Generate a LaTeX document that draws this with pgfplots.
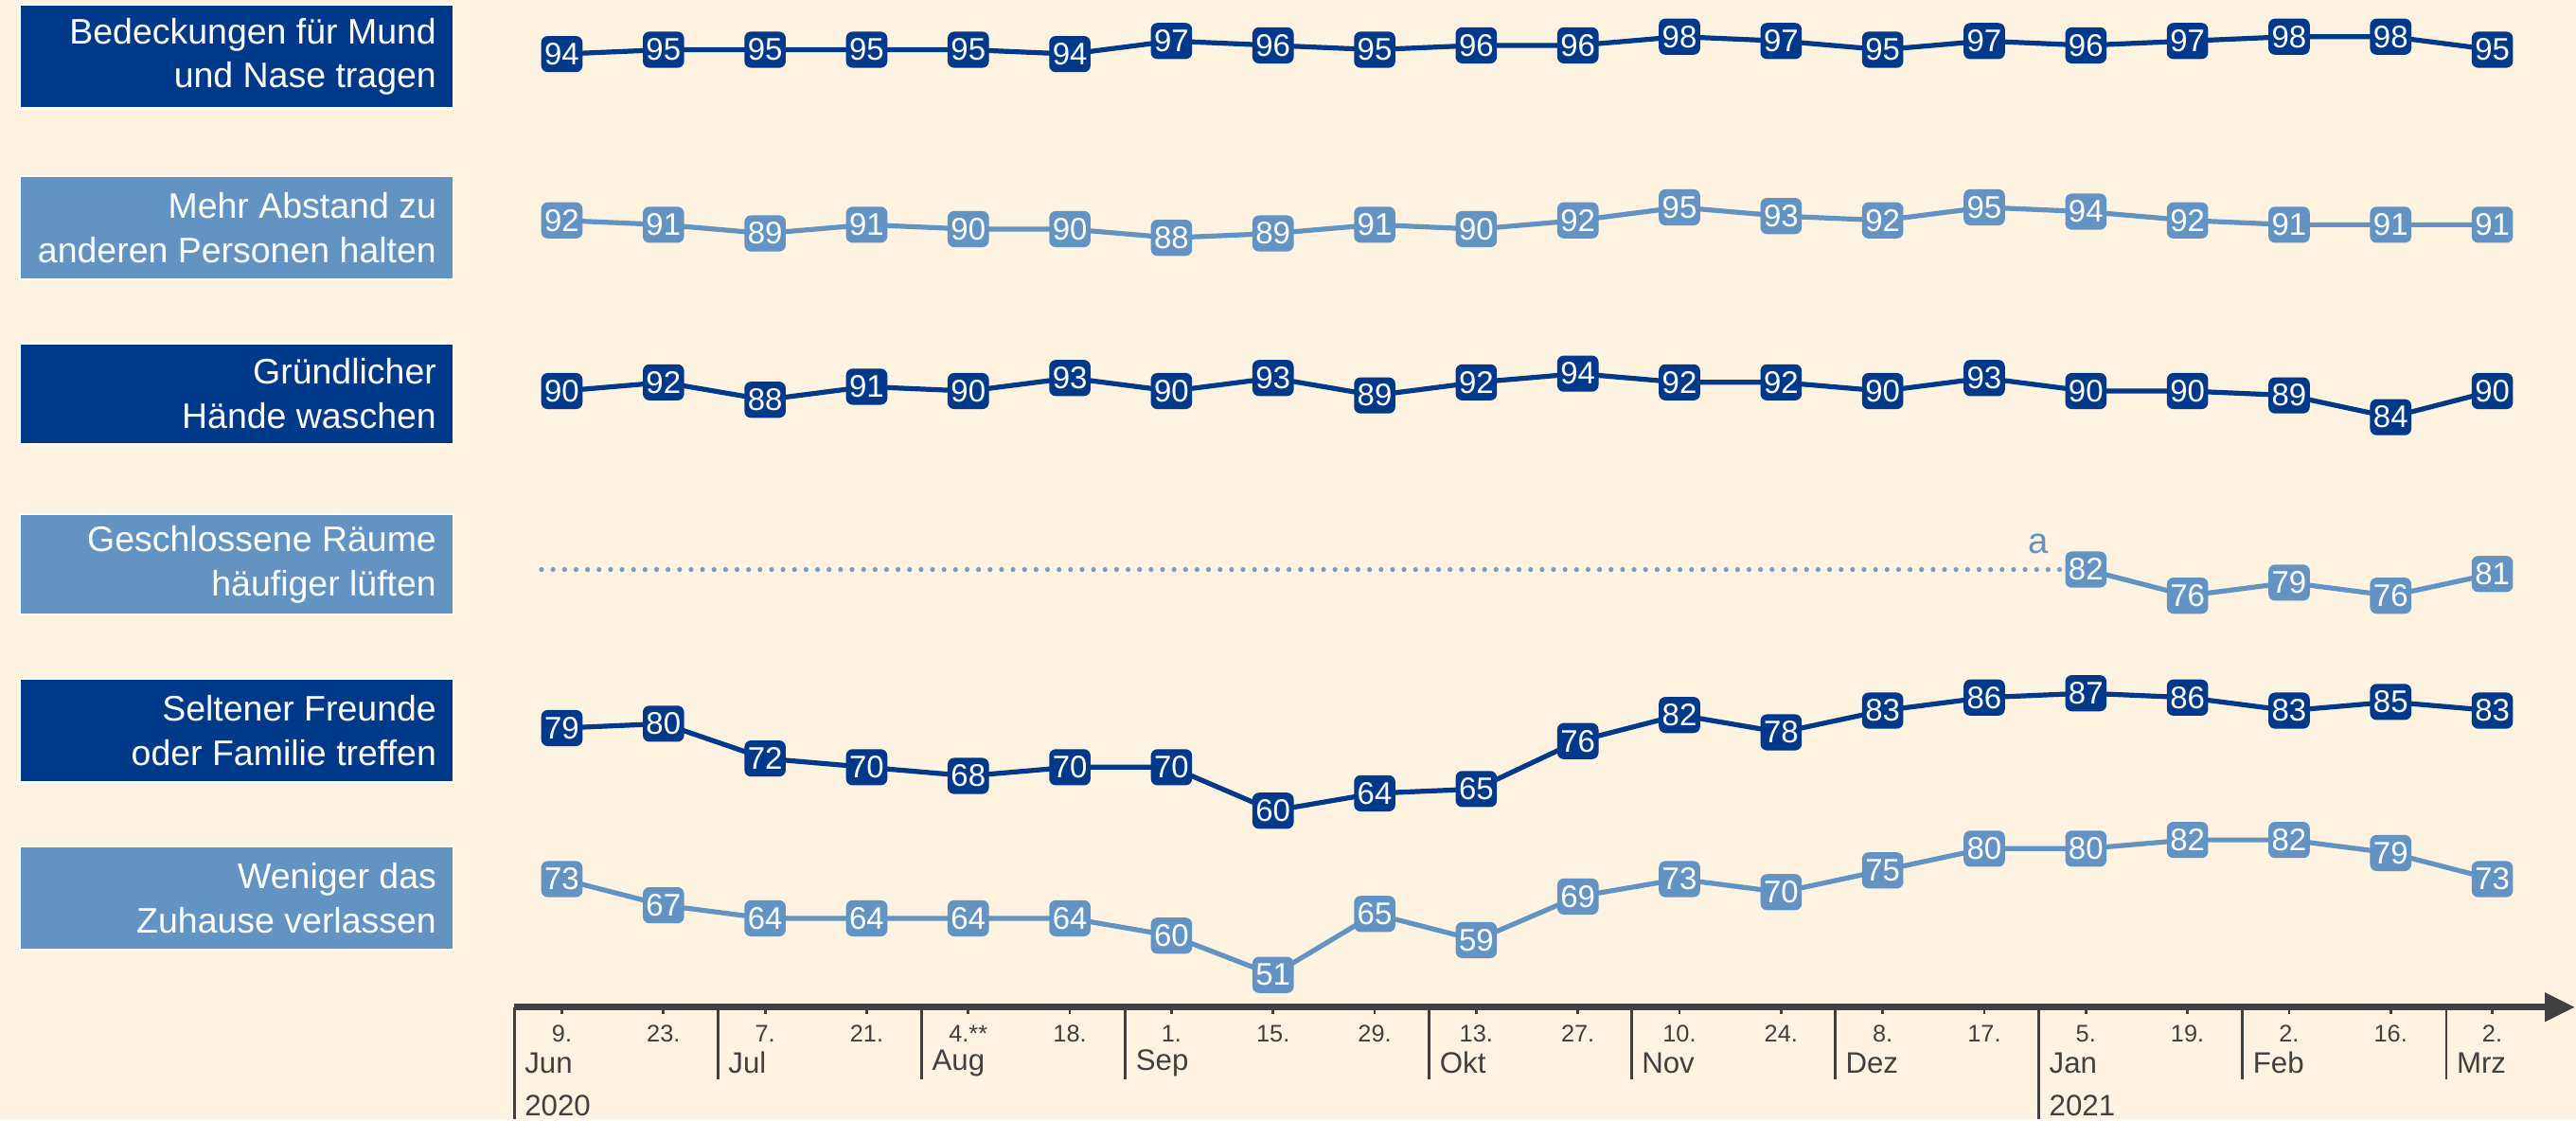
\documentclass[border=0pt]{standalone}
\usepackage{fontspec}
\setmainfont{Liberation Sans}
\usepackage{pgfplots}
\pgfplotsset{compat=1.18}
\usetikzlibrary{arrows.meta}
\definecolor{dblue}{HTML}{00388A}
\definecolor{lblue}{HTML}{6393C3}
\definecolor{dotblue}{HTML}{7C9CC0}
\definecolor{bgcol}{HTML}{FEF3E1}
\definecolor{axgray}{HTML}{404040}

\pgfplotsset{
  row/.style 2 args={
    line width=1.5pt, color=#1, mark=none,
    y filter/.expression={y-#2},
    point meta=rawy,
    nodes near coords={\pgfmathprintnumber[assume math mode=true]{\pgfplotspointmeta}},
    every node near coord/.style={anchor=center, fill=#1, text=white,
      rounded corners=2pt, inner xsep=1pt, inner ysep=1pt,
      minimum height=11pt, minimum width=12pt,
      font=\fontsize{9.5}{10}\selectfont},
  },
}

\begin{document}
\begin{tikzpicture}
\fill[bgcol] (0,0) rectangle (784pt,340.5pt);
\begin{axis}[
  width=784pt, height=340.5pt, scale only axis,
  xmin=-5.530, xmax=19.824, ymin=-150.57, ymax=106.42,
  hide axis, clip=false,
]
\coordinate (TL) at (rel axis cs:0,1);
% Bedeckungen fuer Mund und Nase
\addplot[row={dblue}{0}] coordinates {
(0,94) (1,95) (2,95) (3,95) (4,95) (5,94) (6,97) (7,96) (8,95) (9,96)
(10,96) (11,98) (12,97) (13,95) (14,97) (15,96) (16,97) (17,98) (18,98) (19,95)};
% Mehr Abstand
\addplot[row={lblue}{36.2}] coordinates {
(0,92) (1,91) (2,89) (3,91) (4,90) (5,90) (6,88) (7,89) (8,91) (9,90)
(10,92) (11,95) (12,93) (13,92) (14,95) (15,94) (16,92) (17,91) (18,91) (19,91)};
% Haende waschen
\addplot[row={dblue}{73.4}] coordinates {
(0,90) (1,92) (2,88) (3,91) (4,90) (5,93) (6,90) (7,93) (8,89) (9,92)
(10,94) (11,92) (12,92) (13,90) (14,93) (15,90) (16,90) (17,89) (18,84) (19,90)};
% Lueften (dotted lead-in, then data)
\addplot[dotblue, line width=1.5pt, dash pattern=on 0pt off 3.5pt, line cap=round,
  y filter/.expression={y-106.4}] coordinates {(-0.2,82) (15,82)};
\addplot[row={lblue}{106.4}] coordinates {
(15,82) (16,76) (17,79) (18,76) (19,81)};
% Freunde treffen
\addplot[row={dblue}{139.8}] coordinates {
(0,79) (1,80) (2,72) (3,70) (4,68) (5,70) (6,70) (7,60) (8,64) (9,65)
(10,76) (11,82) (12,78) (13,83) (14,86) (15,87) (16,86) (17,83) (18,85) (19,83)};
% Zuhause verlassen
\addplot[row={lblue}{168.5}] coordinates {
(0,73) (1,67) (2,64) (3,64) (4,64) (5,64) (6,60) (7,51) (8,65) (9,59)
(10,69) (11,73) (12,70) (13,75) (14,80) (15,80) (16,82) (17,82) (18,79) (19,73)};
\end{axis}

\begin{scope}[shift={(TL)}, x=0.5pt, y=-0.5pt]
  % left label boxes
  \foreach \ya/\yb/\c in {3/66/dblue, 107/170/lblue, 209/270/dblue, 313/374/lblue, 413/476/dblue, 515/578/lblue}
    \fill[\c, draw=white, line width=0.6pt] (12,\ya) rectangle (276,\yb);
  \begin{scope}[every node/.style={anchor=east, align=right, text=white, inner sep=0pt,
      font=\fontsize{10.8}{13.5}\selectfont}]
    \node at (266,34.5) {Bedeckungen für Mund\\und Nase tragen};
    \node at (266,138.5) {Mehr Abstand zu\\anderen Personen halten};
    \node at (266,239.5) {Gründlicher\\Hände waschen};
    \node at (266,343.5) {Geschlossene Räume\\häufiger lüften};
    \node at (266,444.5) {Seltener Freunde\\oder Familie treffen};
    \node at (266,546.5) {Weniger das\\Zuhause verlassen};
  \end{scope}
  \node[text=lblue, font=\fontsize{11}{13}\selectfont] at (1241,331) {a};
  % time axis
  \draw[axgray, line width=2pt] (313,613) -- (1552,613);
  \fill[axgray] (1567,613) -- (1549,604) -- (1549,622) -- cycle;
  \foreach \i/\d in {0/9., 1/23., 2/7., 3/21., 4/4.**, 5/18., 6/1., 7/15., 8/29., 9/13.,
      10/27., 11/10., 12/24., 13/8., 14/17., 15/5., 16/19., 17/2., 18/16., 19/2.} {
    \draw[axgray, line width=0.8pt] ({342+61.842*\i},613) -- ++(0,4);
    \node[text=axgray, font=\fontsize{7.3}{8}\selectfont, inner sep=0pt] at ({342+61.842*\i},629) {\d};
  }
  \foreach \x/\yb/\m in {313/681/Jun, 437/657/Jul, 561/657/Aug, 685/657/Sep, 870/657/Okt,
      993/657/Nov, 1117/657/Dez, 1241/681/Jan, 1365/657/Feb, 1489/657/Mrz} {
    \draw[axgray, line width=0.8pt] (\x,613) -- (\x,\yb);
    \node[text=axgray, anchor=west, font=\fontsize{9}{10}\selectfont, inner sep=0pt] at (\x+6,647) {\m};
  }
  \node[text=axgray, anchor=west, font=\fontsize{9}{10}\selectfont, inner sep=0pt] at (319,673) {2020};
  \node[text=axgray, anchor=west, font=\fontsize{9}{10}\selectfont, inner sep=0pt] at (1247,673) {2021};
\end{scope}
\end{tikzpicture}
\end{document}
